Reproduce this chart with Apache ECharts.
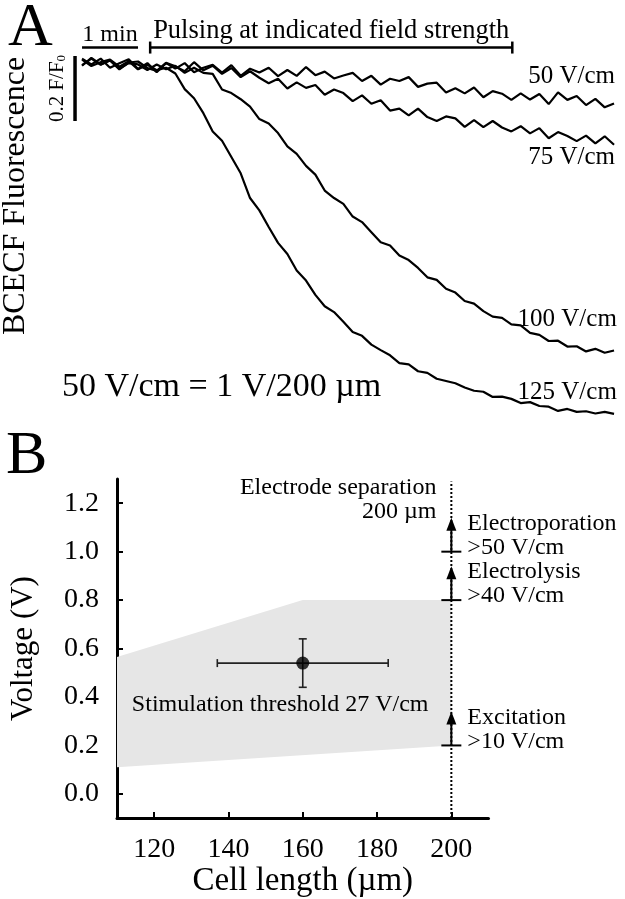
<!DOCTYPE html>
<html>
<head>
<meta charset="utf-8">
<script src="https://cdn.jsdelivr.net/npm/echarts@6/dist/echarts.min.js"></script>
<style>
html,body{margin:0;padding:0;background:#fff;}
#main{width:625px;height:899px;}
</style>
</head>
<body>
<div id="main"></div>
<script>
var FONT = '"Liberation Serif","Times New Roman",serif';

// ---- panel A : BCECF traces (time in s, change in F/F0)
var timeSec = [0,10,20,30,40,50,60,70,80,90,100,110,120,130,140,150,160,170,180,190,
    200,210,220,230,240,250,260,270,280,290,300,310,320,330,340,350,360,370,380,390,
    400,410,420,430,440,450,460,470,480,490,500,510,520,530,540,550,560,570];
var trace50 = [0.012,-0.006,0.012,-0.016,-0.002,0.010,-0.020,-0.002,-0.030,-0.002,
    -0.019,-0.002,-0.030,-0.016,-0.007,-0.031,-0.008,-0.041,-0.019,-0.031,
    -0.016,-0.042,-0.023,-0.041,-0.014,-0.039,-0.028,-0.049,-0.040,-0.032,
    -0.057,-0.041,-0.068,-0.050,-0.057,-0.045,-0.075,-0.065,-0.062,-0.092,
    -0.079,-0.095,-0.077,-0.107,-0.088,-0.096,-0.115,-0.095,-0.114,-0.097,
    -0.128,-0.092,-0.115,-0.103,-0.131,-0.112,-0.138,-0.126];
var trace75 = [-0.010,0.014,-0.006,0.006,-0.021,0.000,0.003,-0.017,-0.026,-0.001,
    -0.012,-0.027,0.001,-0.024,-0.010,-0.035,-0.017,-0.045,-0.027,-0.047,
    -0.064,-0.050,-0.080,-0.061,-0.078,-0.069,-0.099,-0.083,-0.094,-0.119,
    -0.101,-0.127,-0.116,-0.148,-0.142,-0.163,-0.142,-0.168,-0.180,-0.166,
    -0.172,-0.198,-0.177,-0.199,-0.180,-0.200,-0.212,-0.196,-0.218,-0.202,
    -0.233,-0.214,-0.226,-0.242,-0.225,-0.249,-0.227,-0.253];
var trace100 = [-0.008,0.012,-0.007,0.007,-0.019,-0.002,-0.006,-0.023,-0.006,-0.021,
    -0.010,-0.032,-0.016,-0.032,-0.035,-0.083,-0.094,-0.113,-0.136,-0.174,
    -0.188,-0.217,-0.258,-0.281,-0.318,-0.345,-0.394,-0.417,-0.435,-0.474,
    -0.491,-0.522,-0.553,-0.563,-0.594,-0.608,-0.632,-0.661,-0.669,-0.696,
    -0.708,-0.734,-0.742,-0.765,-0.782,-0.786,-0.806,-0.809,-0.832,-0.838,
    -0.857,-0.856,-0.874,-0.873,-0.889,-0.881,-0.893,-0.886];
var trace125 = [0.009,-0.011,0.001,0.009,-0.013,0.004,-0.021,-0.007,-0.024,-0.016,
    -0.034,-0.082,-0.110,-0.156,-0.212,-0.241,-0.291,-0.341,-0.417,-0.455,
    -0.506,-0.555,-0.589,-0.640,-0.671,-0.715,-0.750,-0.768,-0.798,-0.829,
    -0.841,-0.868,-0.885,-0.901,-0.925,-0.929,-0.950,-0.955,-0.973,-0.980,
    -0.987,-1.000,-1.010,-1.013,-1.029,-1.028,-1.035,-1.048,-1.045,-1.057,
    -1.059,-1.072,-1.066,-1.075,-1.073,-1.080,-1.075,-1.081];
var traceNames = ['50 V/cm','75 V/cm','100 V/cm','125 V/cm'];
var traceLabelTime = [571,571,573,573];
var traceLabelLevel = [-0.043,-0.292,-0.791,-1.015];

// scale bars
var minuteBar = [0,60];
var pulseWindow = [73,461];
var barLevel = 0.046;
var fluorBarTime = -7.5;
var fluorBar = [0.02,-0.18];

// ---- panel B : voltage vs cell length
var xTicks = [120,140,160,180,200];
var yTicks = [0,0.2,0.4,0.6,0.8,1.0,1.2];
var bandUpper = [[110,0.565],[160,0.8],[200,0.8]];
var bandLower = [[200,0.2],[110,0.11]];
var cellLength = 160;
var cellLengthRange = [137,183];
var threshVolt = 0.54;
var threshVoltRange = [0.44,0.64];
var electrodeGap = 200;
var thresholdBase = [1.0,0.8,0.2];
var thresholdTip = [1.14,0.94,0.34];
var thresholdName = ['Electroporation','Electrolysis','Excitation'];
var thresholdField = ['>50 V/cm','>40 V/cm','>10 V/cm'];
var noteText = ['Stimulation threshold 27 V/cm','Electrode separation','200 \u00b5m'];
var noteX = [114,196,196];
var noteY = [0.367,1.266,1.167];
var noteAlign = ['left','right','right'];

var myChart = echarts.init(document.getElementById('main'));

function font(size){ return size + 'px ' + FONT; }

function traceSeries(vals){
    return {
        type:'line', xAxisIndex:0, yAxisIndex:0,
        data: timeSec.map(function(t,i){ return [t, vals[i]]; }),
        symbol:'none', silent:true,
        lineStyle:{color:'#000', width:2.2}
    };
}

var option = {
    animation:false,
    backgroundColor:'#fff',
    textStyle:{fontFamily:FONT},
    grid:[
        {left:72.7, top:30, width:546, height:422.5},
        {left:113, top:479, width:375.5, height:339.5}
    ],
    xAxis:[
        {gridIndex:0, type:'value', min:-10, max:575, show:false},
        {
            gridIndex:1, type:'value', min:110, max:210,
            axisLine:{onZero:false, lineStyle:{color:'#000', width:3}},
            axisTick:{inside:true, length:6, customValues:xTicks, lineStyle:{color:'#000', width:2}},
            axisLabel:{customValues:xTicks, color:'#000', fontSize:28, fontFamily:FONT, margin:18},
            splitLine:{show:false},
            name:'Cell length (\u00b5m)', nameLocation:'middle', nameGap:45,
            nameTextStyle:{color:'#000', fontSize:33, fontFamily:FONT}
        }
    ],
    yAxis:[
        {gridIndex:0, type:'value', min:-1.2, max:0.1, show:false},
        {
            gridIndex:1, type:'value', min:-0.1, max:1.3,
            axisLine:{onZero:false, lineStyle:{color:'#000', width:3}},
            axisTick:{inside:true, length:6, customValues:yTicks, lineStyle:{color:'#000', width:2}},
            axisLabel:{customValues:yTicks, color:'#000', fontSize:28, fontFamily:FONT, margin:18,
                formatter:function(v){ return v.toFixed(1); }},
            splitLine:{show:false},
            name:'Voltage (V)', nameLocation:'middle', nameGap:78,
            nameTextStyle:{color:'#000', fontSize:31, fontFamily:FONT}
        }
    ],
    series:[
        traceSeries(trace50),
        traceSeries(trace75),
        traceSeries(trace100),
        traceSeries(trace125),
        {
            // trace labels
            type:'custom', xAxisIndex:0, yAxisIndex:0, silent:true,
            data: traceNames.map(function(n,i){ return [traceLabelTime[i], traceLabelLevel[i]]; }),
            renderItem:function(params, api){
                var p = api.coord([api.value(0), api.value(1)]);
                return {type:'text', x:p[0], y:p[1], style:{
                    text:traceNames[params.dataIndex], font:font(25), fill:'#000',
                    align:'right', verticalAlign:'middle'}};
            }
        },
        {
            // scale bars and pulsing bracket
            type:'custom', xAxisIndex:0, yAxisIndex:0, silent:true,
            data:[[0,0]],
            renderItem:function(params, api){
                var a = api.coord([minuteBar[0], barLevel]), b = api.coord([minuteBar[1], barLevel]);
                var c = api.coord([pulseWindow[0], barLevel]), d = api.coord([pulseWindow[1], barLevel]);
                var e = api.coord([fluorBarTime, fluorBar[0]]), f = api.coord([fluorBarTime, fluorBar[1]]);
                var st = {stroke:'#000', lineWidth:2.5};
                return {type:'group', children:[
                    {type:'line', shape:{x1:a[0], y1:a[1], x2:b[0], y2:b[1]}, style:st},
                    {type:'line', shape:{x1:c[0], y1:c[1], x2:d[0], y2:d[1]}, style:st},
                    {type:'line', shape:{x1:c[0], y1:c[1]-6, x2:c[0], y2:c[1]+6}, style:st},
                    {type:'line', shape:{x1:d[0], y1:d[1]-6, x2:d[0], y2:d[1]+6}, style:st},
                    {type:'line', shape:{x1:e[0], y1:e[1], x2:f[0], y2:f[1]}, style:{stroke:'#000', lineWidth:3.5}},
                    {type:'text', x:(a[0]+b[0])/2, y:a[1]-13, style:{text:'1 min', font:font(24), fill:'#000',
                        align:'center', verticalAlign:'middle'}},
                    {type:'text', x:(c[0]+d[0])/2, y:c[1]-17, style:{text:'Pulsing at indicated field strength',
                        font:font(26.5), fill:'#000', align:'center', verticalAlign:'middle'}},
                    {type:'text', x:e[0]-18, y:(e[1]+f[1])/2, rotation:Math.PI/2, style:{
                        text:'{m|0.2 F/F}{s|0}', fill:'#000', align:'center', verticalAlign:'middle',
                        rich:{m:{font:font(21), fill:'#000'}, s:{font:font(13), fill:'#000', padding:[10,0,0,0]}}}}
                ]};
            }
        },
        {
            // shaded range
            type:'custom', xAxisIndex:1, yAxisIndex:1, silent:true, z:1,
            data:[[110,0]],
            renderItem:function(params, api){
                var pts = bandUpper.concat(bandLower).map(function(p){ return api.coord(p); });
                return {type:'polygon', shape:{points:pts}, style:{fill:'#e6e6e6'}};
            }
        },
        {
            // electrode separation line
            type:'line', xAxisIndex:1, yAxisIndex:1, silent:true, symbol:'none',
            data:[[electrodeGap,-0.1],[electrodeGap,1.29]],
            lineStyle:{color:'#000', width:2, type:[2,2]}
        },
        {
            // error bars
            type:'custom', xAxisIndex:1, yAxisIndex:1, silent:true,
            data:[[cellLength, threshVolt]],
            renderItem:function(params, api){
                var l = api.coord([cellLengthRange[0], threshVolt]), r = api.coord([cellLengthRange[1], threshVolt]);
                var lo = api.coord([cellLength, threshVoltRange[0]]), hi = api.coord([cellLength, threshVoltRange[1]]);
                var st = {stroke:'#222', lineWidth:1.6};
                return {type:'group', children:[
                    {type:'line', shape:{x1:l[0], y1:l[1], x2:r[0], y2:r[1]}, style:st},
                    {type:'line', shape:{x1:l[0], y1:l[1]-4, x2:l[0], y2:l[1]+4}, style:st},
                    {type:'line', shape:{x1:r[0], y1:r[1]-4, x2:r[0], y2:r[1]+4}, style:st},
                    {type:'line', shape:{x1:lo[0], y1:lo[1], x2:hi[0], y2:hi[1]}, style:st},
                    {type:'line', shape:{x1:lo[0]-4, y1:lo[1], x2:lo[0]+4, y2:lo[1]}, style:st},
                    {type:'line', shape:{x1:hi[0]-4, y1:hi[1], x2:hi[0]+4, y2:hi[1]}, style:st}
                ]};
            }
        },
        {
            type:'scatter', xAxisIndex:1, yAxisIndex:1, silent:true,
            data:[[cellLength, threshVolt]], symbolSize:13,
            itemStyle:{color:'#000'}
        },
        {
            // threshold arrows
            type:'custom', xAxisIndex:1, yAxisIndex:1, silent:true,
            data: thresholdBase.map(function(v,i){ return [electrodeGap, v, thresholdTip[i]]; }),
            renderItem:function(params, api){
                var i = params.dataIndex;
                var b = api.coord([api.value(0), api.value(1)]);
                var t = api.coord([api.value(0), api.value(2)]);
                var st = {stroke:'#000', lineWidth:2};
                return {type:'group', children:[
                    {type:'line', shape:{x1:b[0]-10, y1:b[1], x2:b[0]+10, y2:b[1]}, style:st},
                    {type:'line', shape:{x1:b[0], y1:b[1], x2:t[0], y2:t[1]+10}, style:st},
                    {type:'polygon', shape:{points:[[t[0],t[1]],[t[0]-5,t[1]+13],[t[0]+5,t[1]+13]]}, style:{fill:'#000'}},
                    {type:'text', x:b[0]+16, y:t[1]+6, style:{text:thresholdName[i], font:font(24), fill:'#000',
                        align:'left', verticalAlign:'middle'}},
                    {type:'text', x:b[0]+16, y:b[1]-4, style:{text:thresholdField[i], font:font(24), fill:'#000',
                        align:'left', verticalAlign:'middle'}}
                ]};
            }
        },
        {
            // notes
            type:'custom', xAxisIndex:1, yAxisIndex:1, silent:true,
            data: noteText.map(function(s,i){ return [noteX[i], noteY[i]]; }),
            renderItem:function(params, api){
                var p = api.coord([api.value(0), api.value(1)]);
                return {type:'text', x:p[0], y:p[1], style:{text:noteText[params.dataIndex], font:font(24),
                    fill:'#000', align:noteAlign[params.dataIndex], verticalAlign:'middle'}};
            }
        }
    ],
    graphic:[
        {type:'text', x:8, y:29, style:{text:'A', font:font(62), fill:'#000', verticalAlign:'middle'}},
        {type:'text', x:6, y:457, style:{text:'B', font:font(62), fill:'#000', verticalAlign:'middle'}},
        {type:'text', x:16, y:196, rotation:Math.PI/2, style:{text:'BCECF Fluorescence', font:font(32),
            fill:'#000', align:'center', verticalAlign:'middle'}},
        {type:'text', x:62, y:387, style:{text:'50 V/cm = 1 V/200 \u00b5m', font:font(34), fill:'#000',
            verticalAlign:'middle'}}
    ]
};

myChart.setOption(option);
</script>
</body>
</html>
